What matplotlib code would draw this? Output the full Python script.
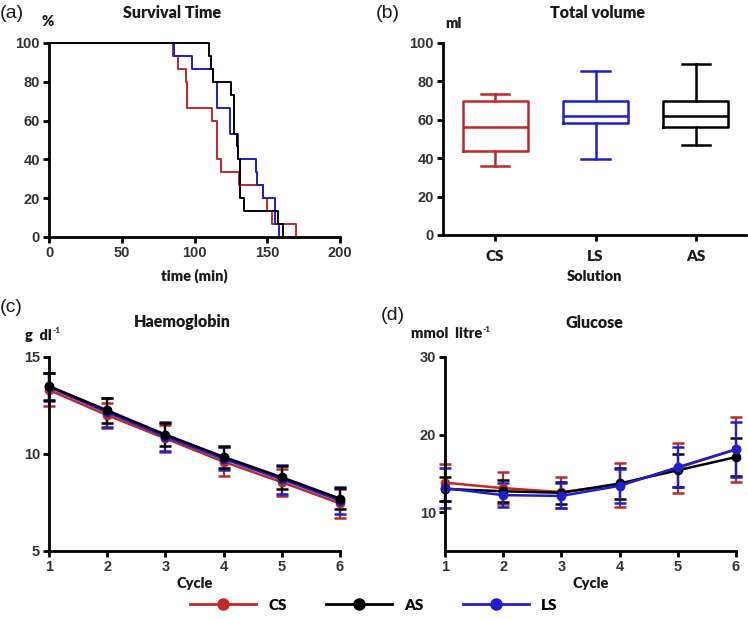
import numpy as np
import matplotlib
matplotlib.use("Agg")
import matplotlib.pyplot as plt
from matplotlib.lines import Line2D

# ---- data ----
# (a) survival: event (death) times in minutes, n = 15 per group
surv_cs = [85.5, 89, 94.5, 95, 95, 112, 115.5, 115.5, 115.5, 118.5, 130.5, 147, 149.5, 153.5, 170]
surv_as = [110, 111.5, 113, 125, 127, 127, 127, 129, 130, 131, 131, 131, 134, 157.5, 160.5]
surv_ls = [86, 98, 113, 115.5, 115.5, 124.5, 124.5, 130, 130, 142, 143, 147, 155, 155, 158]

# (b) total volume box plots (ml): whisker low, q1, median, q3, whisker high
vol_groups = ["CS", "LS", "AS"]
vol_low = [36, 39.5, 47]
vol_q1 = [44, 58.5, 56.5]
vol_med = [56.5, 62, 62]
vol_q3 = [70, 70, 70]
vol_high = [73.5, 85.5, 89]

# (c) haemoglobin (g/dl), mean and SD per cycle
cycles = [1, 2, 3, 4, 5, 6]
hb_cs = [13.3, 12.0, 10.8, 9.6, 8.55, 7.45]
hb_cs_sd = [0.85, 0.65, 0.7, 0.75, 0.7, 0.75]
hb_as = [13.5, 12.25, 11.0, 9.85, 8.8, 7.7]
hb_as_sd = [0.7, 0.65, 0.6, 0.55, 0.6, 0.55]
hb_ls = [13.45, 12.15, 10.9, 9.75, 8.7, 7.6]
hb_ls_sd = [0.7, 0.75, 0.75, 0.6, 0.75, 0.7]

# (d) glucose (mmol/l), mean and SD per cycle
glu_cs = [13.8, 13.1, 12.6, 13.5, 15.7, 18.1]
glu_cs_sd = [2.4, 2.1, 2.0, 2.8, 3.2, 4.2]
glu_as = [13.0, 12.7, 12.5, 13.7, 15.4, 17.1]
glu_as_sd = [1.6, 1.4, 1.4, 2.0, 2.1, 2.4]
glu_ls = [13.1, 12.2, 12.1, 13.4, 15.8, 18.1]
glu_ls_sd = [2.6, 1.5, 1.6, 2.2, 2.6, 3.5]

RED, BLUE, BLACK = "#C0282A", "#1E1ECC", "#000000"
TICK_C = "#333333"

plt.rcParams.update({
    "font.family": "Liberation Sans",
    "axes.linewidth": 2.0,
    "xtick.major.width": 2.0, "ytick.major.width": 2.0,
    "xtick.major.size": 4.5, "ytick.major.size": 4.5,
    "xtick.labelsize": 10.5, "ytick.labelsize": 10.5,
})
TITLE_KW = dict(fontfamily="Lato", fontweight="heavy", fontsize=11.5, color="#1a1a1a")
LAB_KW = dict(fontfamily="Lato", fontweight="heavy", fontsize=10.5, color="#1a1a1a")


def style(ax):
    for s in ("top", "right"):
        ax.spines[s].set_visible(False)
    ax.tick_params(colors=TICK_C, labelcolor=TICK_C, pad=2)
    for lab in ax.get_xticklabels() + ax.get_yticklabels():
        lab.set_fontweight("bold")
    ax.tick_params(axis="both", color="black")


def km(times, n=15):
    t = np.sort(np.asarray(times, float))
    ut, cnt = np.unique(t, return_counts=True)
    s = 100.0 * (1 - np.cumsum(cnt) / n)
    return np.r_[0, ut], np.r_[100, s]


fig = plt.figure(figsize=(7.48, 6.19), dpi=100)
W, H = 748, 619


def add_ax(l, r, t, b):
    return fig.add_axes([l / W, 1 - b / H, (r - l) / W, (b - t) / H])


def unit_label(ax, x, y, base):
    t = fig.text(x / W, 1 - y / H, base, ha="left", va="center", **LAB_KW)
    ax.annotate("-1", xy=(1, 0.55), xycoords=t, xytext=(0.5, 0), textcoords="offset points",
                ha="left", va="bottom", fontsize=6, fontfamily="Lato", fontweight="bold",
                color="#1a1a1a", annotation_clip=False)


# (a) survival
ax = add_ax(49, 340, 43, 237)
for times, c in ((surv_cs, RED), (surv_ls, BLUE), (surv_as, BLACK)):
    x, y = km(times)
    ax.plot(x, y, drawstyle="steps-post", color=c, lw=1.4, clip_on=False)
ax.set_xlim(0, 200); ax.set_ylim(0, 100)
ax.set_xticks([0, 50, 100, 150, 200]); ax.set_yticks([0, 20, 40, 60, 80, 100])
style(ax)
ax.set_xlabel("time (min)", labelpad=6, **LAB_KW)
fig.text(42 / W, 1 - 22 / H, "%", ha="left", va="center", **LAB_KW)
fig.text(172 / W, 1 - 13 / H, "Survival Time", ha="center", va="center", **TITLE_KW)

# (b) total volume
ax = add_ax(443, 746, 43, 235)
vcols = [RED, BLUE, BLACK]
stats = [dict(med=m, q1=a, q3=b, whislo=lo, whishi=hi, fliers=[])
         for m, a, b, lo, hi in zip(vol_med, vol_q1, vol_q3, vol_low, vol_high)]
for i, (st, c) in enumerate(zip(stats, vcols)):
    props = dict(color=c, lw=1.8)
    ax.bxp([st], positions=[i + 1], widths=0.65, capwidths=0.28, showfliers=False,
           boxprops=props, whiskerprops=props, capprops=props, medianprops=props)
ax.set_xlim(0.48, 3.5); ax.set_ylim(0, 100)
ax.set_xticks([1, 2, 3]); ax.set_xticklabels(vol_groups)
ax.set_yticks([0, 20, 40, 60, 80, 100])
style(ax)
for lab in ax.get_xticklabels():
    lab.set_fontfamily("Lato"); lab.set_color("#1a1a1a"); lab.set_fontsize(11)
    lab.set_fontweight("heavy")
ax.tick_params(axis="x", pad=6)
ax.set_xlabel("Solution", labelpad=5, **LAB_KW)
fig.text(445 / W, 1 - 24 / H, "ml", ha="left", va="center", **LAB_KW)
fig.text(597 / W, 1 - 13 / H, "Total volume", ha="center", va="center", **TITLE_KW)


def mean_sd(ax, series):
    for m, sd, c in series:
        ax.errorbar(cycles, m, yerr=sd, color=c, lw=1.8, marker="o", ms=6,
                    capsize=4, capthick=1.8, elinewidth=1.6, clip_on=False)


# (c) haemoglobin
ax = add_ax(49, 340, 357, 551)
mean_sd(ax, [(hb_cs, hb_cs_sd, RED), (hb_ls, hb_ls_sd, BLUE), (hb_as, hb_as_sd, BLACK)])
ax.set_xlim(1, 6); ax.set_ylim(5, 15)
ax.set_xticks(cycles); ax.set_yticks([5, 10, 15])
style(ax)
ax.set_xlabel("Cycle", labelpad=2, **LAB_KW)
unit_label(ax, 25, 335, "g  dl")
fig.text(182 / W, 1 - 322 / H, "Haemoglobin", ha="center", va="center", **TITLE_KW)

# (d) glucose
ax = add_ax(445, 736, 357, 551)
mean_sd(ax, [(glu_cs, glu_cs_sd, RED), (glu_as, glu_as_sd, BLACK), (glu_ls, glu_ls_sd, BLUE)])
ax.set_xlim(1, 6); ax.set_ylim(5, 30)
ax.set_xticks(cycles); ax.set_yticks([10, 20, 30])
style(ax)
ax.set_xlabel("Cycle", labelpad=2, **LAB_KW)
unit_label(ax, 411, 334, "mmol  litre")
fig.text(594 / W, 1 - 323 / H, "Glucose", ha="center", va="center", **TITLE_KW)

# panel letters
for x, y, s in ((0, 13, "(a)"), (376, 13, "(b)"), (0, 308, "(c)"), (381, 315, "(d)")):
    fig.text(x / W, 1 - y / H, s, ha="left", va="center", fontsize=14, color="#1a1a1a")

# shared legend
handles = [Line2D([], [], color=c, lw=2, marker="o", ms=8) for c in (RED, BLACK, BLUE)]
fig.legend(handles, ["CS", "AS", "LS"], ncol=3, loc="center", bbox_to_anchor=(0.5, 1 - 605 / H),
           frameon=False, handlelength=4.3, handletextpad=0.8, columnspacing=2.6,
           prop=dict(family="Lato", weight="heavy", size=11))

fig.savefig("out.png", dpi=100)
